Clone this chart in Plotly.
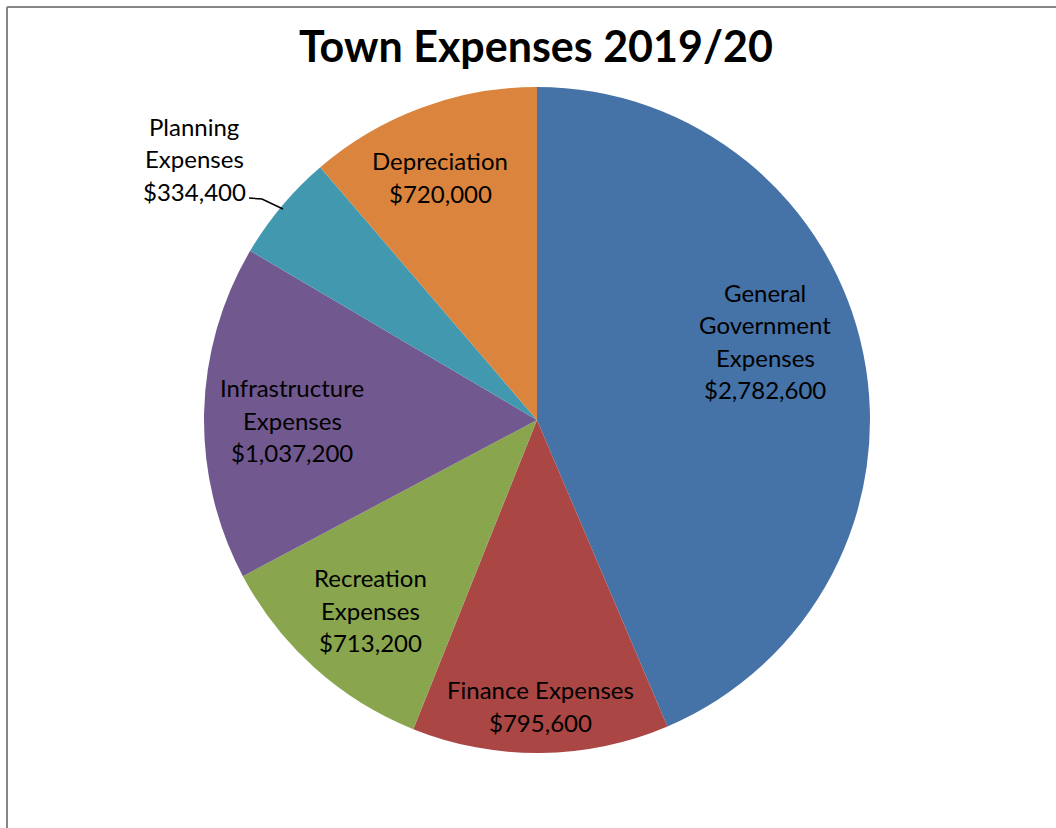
import plotly.graph_objects as go

# Town expense categories and amounts (clockwise from 12 o'clock)
categories = [
    "General Government Expenses",
    "Finance Expenses",
    "Recreation Expenses",
    "Infrastructure Expenses",
    "Planning Expenses",
    "Depreciation",
]
amounts = [2782600, 795600, 713200, 1037200, 334400, 720000]
colors = ["#4572A7", "#AA4643", "#89A54E", "#71588F", "#4198AF", "#DB843D"]

# How each label is broken into lines
label_lines = [
    ["General", "Government", "Expenses"],
    ["Finance Expenses"],
    ["Recreation", "Expenses"],
    ["Infrastructure", "Expenses"],
    ["Planning", "Expenses"],
    ["Depreciation"],
]

W, H = 1056, 828
CX, CY, R = 537, 420, 333  # pie centre / radius in pixels


def px(x):
    return x / W


def py(y):
    return 1 - y / H


# Label block centres (pixels)
label_centres = [(765, 341), (540, 706), (370, 610), (292, 420), (194, 159), (440, 177)]
LINE_GAP = 32.5
FONT = "Lato, Carlito, Calibri, sans-serif"

fig = go.Figure(
    go.Pie(
        labels=categories,
        values=amounts,
        sort=False,
        direction="clockwise",
        rotation=0,
        marker=dict(colors=colors, line=dict(color="white", width=0)),
        textinfo="none",
        hoverinfo="label+value",
        showlegend=False,
        domain=dict(x=[px(CX - R), px(CX + R)], y=[py(CY + R), py(CY - R)]),
    )
)

annotations = []
for lines, amt, (lx, ly) in zip(label_lines, amounts, label_centres):
    all_lines = lines + [f"${amt:,.0f}"]
    n = len(all_lines)
    for i, t in enumerate(all_lines):
        yy = ly + (i - (n - 1) / 2) * LINE_GAP
        annotations.append(
            dict(
                x=px(lx), y=py(yy), xref="paper", yref="paper",
                text=t, showarrow=False, xanchor="center", yanchor="middle",
                font=dict(family=FONT, size=24, color="#000000"),
            )
        )

annotations.append(
    dict(
        x=px(536), y=py(45), xref="paper", yref="paper",
        text="<b>Town Expenses 2019/20</b>", showarrow=False,
        xanchor="center", yanchor="middle",
        font=dict(family=FONT, size=43, color="#000000"),
    )
)

shapes = [
    # chart frame (left and top edges)
    dict(type="line", xref="paper", yref="paper", x0=px(7), y0=py(7), x1=px(7), y1=0,
         line=dict(color="#868686", width=2)),
    dict(type="line", xref="paper", yref="paper", x0=px(7), y0=py(7), x1=1, y1=py(7),
         line=dict(color="#868686", width=2)),
    # leader line for the planning label
    dict(type="path", xref="paper", yref="paper",
         path=f"M {px(249)},{py(198)} L {px(262)},{py(199)} L {px(283)},{py(209)}",
         line=dict(color="#000000", width=1.5)),
]

fig.update_layout(
    width=W, height=H,
    margin=dict(l=0, r=0, t=0, b=0),
    paper_bgcolor="white",
    plot_bgcolor="white",
    annotations=annotations,
    shapes=shapes,
)

fig.write_html("out.html")
